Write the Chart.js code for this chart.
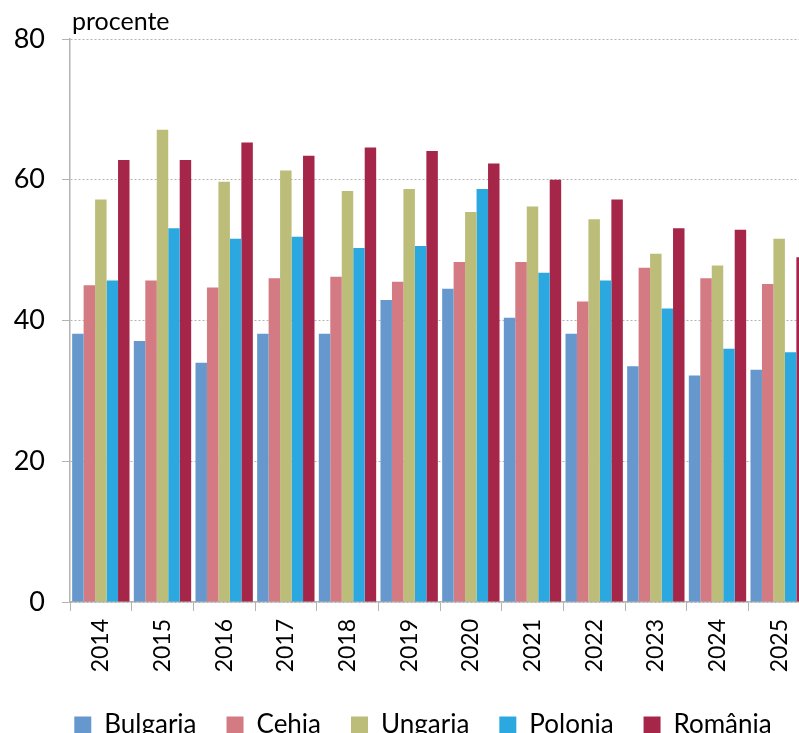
<!DOCTYPE html>
<html>
<head>
<meta charset="utf-8">
<script src="https://cdn.jsdelivr.net/npm/chart.js@4"></script>
<style>
html, body { margin: 0; padding: 0; background: #fff; overflow: hidden; }
#wrap { width: 846px; height: 733px; }
</style>
</head>
<body>
<div id="wrap"><canvas id="chart"></canvas></div>
<script>
// values (procente)
const years = ['2014', '2015', '2016', '2017', '2018', '2019', '2020', '2021', '2022', '2023', '2024', '2025'];
const bulgaria = [38.1, 37.1, 34.0, 38.1, 38.1, 42.9, 44.5, 40.4, 38.1, 33.5, 32.2, 33.0];
const cehia    = [45.0, 45.7, 44.7, 46.0, 46.2, 45.5, 48.3, 48.3, 42.7, 47.5, 46.0, 45.2];
const ungaria  = [57.2, 67.1, 59.7, 61.3, 58.4, 58.7, 55.4, 56.2, 54.4, 49.5, 47.8, 51.6];
const polonia  = [45.7, 53.1, 51.6, 51.9, 50.3, 50.6, 58.7, 46.8, 45.7, 41.7, 36.0, 35.5];
const romania  = [62.8, 62.8, 65.3, 63.4, 64.6, 64.1, 62.3, 60.0, 57.2, 53.1, 52.9, 49.0];
const yTicks = [0, 20, 40, 60, 80];

const font = 'Lato, "Open Sans", sans-serif';

// "procente" above the value axis, and the legend nudged right like the original
const unitLabel = {
    id: 'unitLabel',
    afterLayout(chart) {
        chart.legend.left += 18;
        chart.legend.right += 18;
    },
    afterDraw(chart) {
        const ctx = chart.ctx;
        ctx.save();
        ctx.font = '25px ' + font;
        ctx.fillStyle = '#000';
        ctx.textBaseline = 'alphabetic';
        ctx.fillText('procente', chart.chartArea.left + 2, 30);
        ctx.restore();
    }
};

function series(label, data, color) {
    return { label: label, data: data, backgroundColor: color, borderWidth: 0 };
}

new Chart(document.getElementById('chart'), {
    type: 'bar',
    data: {
        labels: years,
        datasets: [
            series('Bulgaria', bulgaria, '#6698cd'),
            series('Cehia', cehia, '#d37a83'),
            series('Ungaria', ungaria, '#bbbd79'),
            series('Polonia', polonia, '#2ca8e0'),
            series('România', romania, '#a52648')
        ]
    },
    options: {
        responsive: true,
        maintainAspectRatio: false,
        animation: false,
        datasets: { bar: { categoryPercentage: 0.93, barPercentage: 1 } },
        layout: { padding: { top: 39, right: 36, left: 0, bottom: -15 } },
        plugins: {
            tooltip: { enabled: false },
            legend: {
                position: 'bottom',
                labels: {
                    boxWidth: 17,
                    boxHeight: 17,
                    padding: 30,
                    color: '#000',
                    font: { family: font, size: 26 }
                }
            }
        },
        scales: {
            x: {
                grid: { drawOnChartArea: false, drawTicks: true, tickLength: 9, color: '#b3b3b3' },
                border: { display: true, color: '#b3b3b3', width: 1.5 },
                ticks: {
                    minRotation: 90, maxRotation: 90, padding: 8,
                    color: '#000', font: { family: font, size: 23 }
                },
                afterFit(scale) { scale.height = 80; }
            },
            y: {
                min: 0, max: 80,
                afterBuildTicks(scale) { scale.ticks = yTicks.map(v => ({ value: v })); },
                grid: { color: '#b3b3b3', tickLength: 8, tickBorderDash: [1, 0] },
                border: { display: true, color: '#b3b3b3', width: 1.5, dash: [2, 2] },
                ticks: { padding: 17, color: '#000', font: { family: font, size: 27 } },
                afterFit(scale) { scale.width = 70; }
            }
        }
    },
    plugins: [unitLabel]
});
</script>
</body>
</html>
